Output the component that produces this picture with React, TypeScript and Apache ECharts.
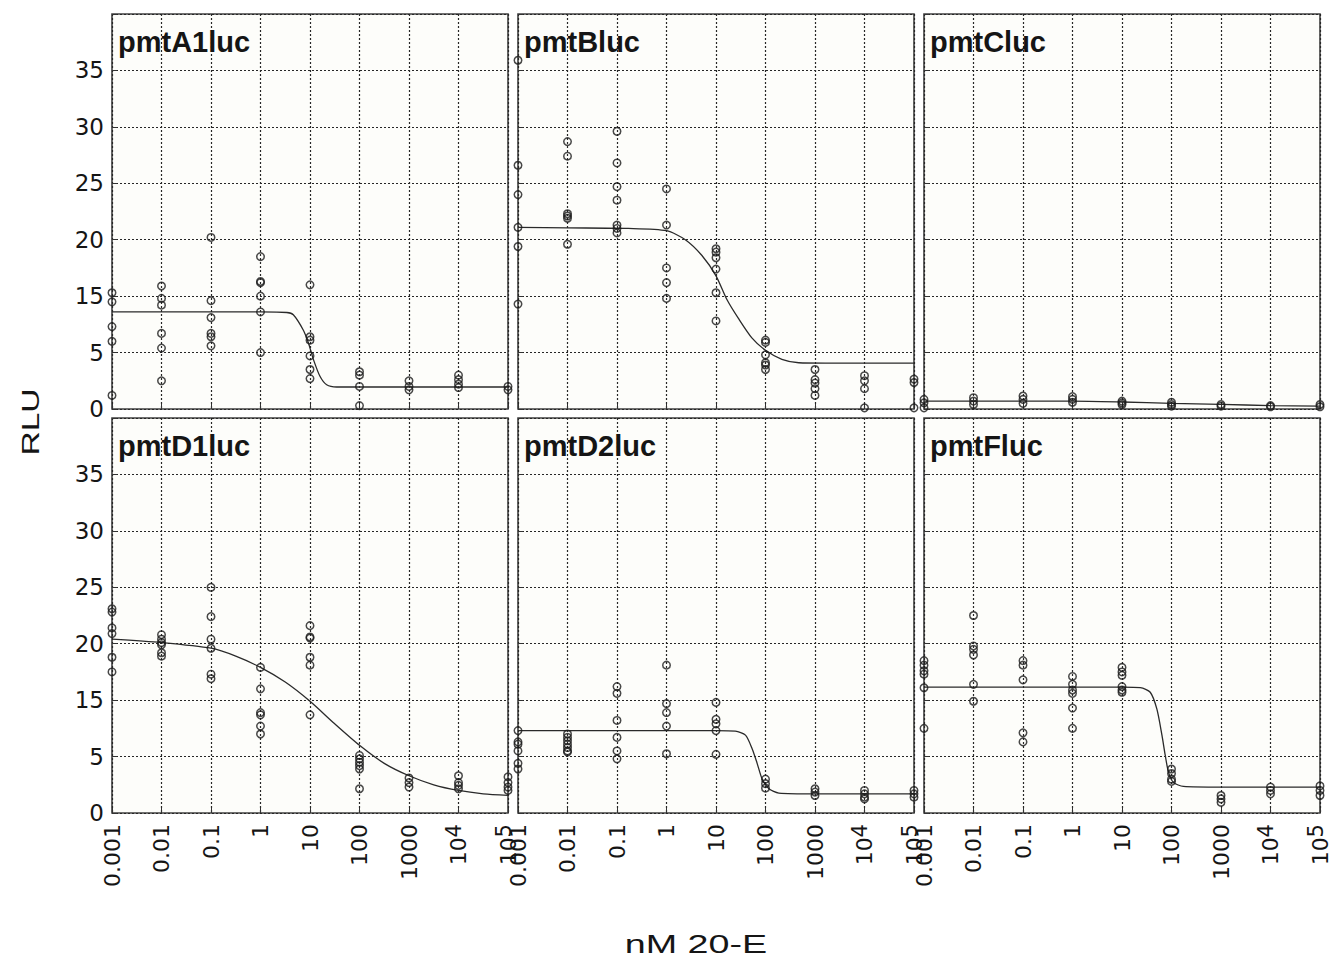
import React, { useEffect, useRef } from 'react';
import * as echarts from 'echarts';

// ---- axis ticks ----
const doses = [0.001, 0.01, 0.1, 1, 10, 100, 1000, 10000, 100000];
const xTickLabels = ['0.001', '0.01', '0.1', '1', '10', '100', '1000', '10^4', '10^5'];
const yTickLabels = ['0', '5', '15', '20', '25', '30', '35'];
const panelNames = ['pmtA1luc', 'pmtBluc', 'pmtCluc', 'pmtD1luc', 'pmtD2luc', 'pmtFluc'];

// ---- replicate readings per dose (plotted axis units) ----
const a1Values = [
  [10.3, 9.5, 7.3, 6.0, 1.2],
  [10.9, 9.8, 9.2, 6.7, 5.4, 2.5],
  [15.2, 9.6, 8.1, 6.7, 6.4, 5.6],
  [13.5, 11.3, 11.2, 10.0, 8.6, 5.0],
  [11.0, 6.4, 6.1, 4.7, 3.5, 2.7],
  [3.3, 3.0, 2.0, 0.3],
  [2.5, 2.0, 1.7],
  [3.0, 2.6, 2.2, 1.9],
  [2.0, 1.7],
];
const bValues = [
  [30.9, 21.6, 19.0, 16.1, 14.4, 9.3],
  [23.7, 22.4, 17.3, 17.1, 16.9, 14.6],
  [24.6, 21.8, 19.7, 18.5, 16.3, 16.0, 15.6],
  [19.5, 16.3, 12.5, 11.2, 9.8],
  [14.2, 13.9, 13.4, 12.4, 10.3, 7.8],
  [6.1, 5.9, 4.8, 4.1, 3.9, 3.5],
  [3.5, 2.6, 2.3, 1.8, 1.2],
  [2.95, 2.5, 1.8, 0.1],
  [2.65, 2.35, 0.1],
];
const cValues = [
  [0.85, 0.55, 0.1],
  [1.0, 0.7, 0.4],
  [1.15, 0.85, 0.5],
  [1.1, 0.85, 0.6],
  [0.7, 0.55, 0.4],
  [0.6, 0.4, 0.25],
  [0.4, 0.25],
  [0.3, 0.2],
  [0.4, 0.2],
];
const d1Values = [
  [18.1, 17.8, 16.4, 15.9, 13.8, 12.5],
  [15.8, 15.4, 15.1, 14.9, 14.2, 13.9],
  [20.0, 17.4, 15.4, 14.6, 12.3, 11.9],
  [12.9, 11.0, 8.9, 8.7, 7.7, 7.0],
  [16.6, 15.6, 15.5, 13.8, 13.1, 8.7],
  [5.1, 4.8, 4.5, 4.2, 3.9, 2.15],
  [3.1, 2.7, 2.3],
  [3.3, 2.7, 2.45, 2.15],
  [3.2, 2.7, 2.3, 2.0],
];
const d2Values = [
  [7.3, 6.3, 6.1, 5.5, 4.4, 3.9],
  [7.0, 6.7, 6.4, 6.1, 5.8, 5.5, 5.4],
  [11.2, 10.6, 8.2, 6.7, 5.5, 4.8],
  [13.1, 9.7, 8.9, 7.7, 5.25],
  [9.8, 8.3, 7.9, 7.3, 5.2],
  [3.0, 2.6, 2.2],
  [2.15, 1.85, 1.55],
  [2.0, 1.7, 1.4, 1.25],
  [2.0, 1.7, 1.4],
];
const fValues = [
  [13.5, 13.1, 12.6, 12.3, 11.1, 7.5],
  [17.5, 14.8, 14.5, 14.0, 11.4, 9.9],
  [13.5, 13.1, 11.8, 7.1, 6.3],
  [12.1, 11.4, 10.9, 10.6, 9.3, 7.5],
  [12.9, 12.5, 12.2, 11.2, 10.9, 10.7],
  [3.9, 3.5, 3.0, 2.8],
  [1.55, 1.25, 0.95],
  [2.3, 2.0, 1.7],
  [2.4, 2.0, 1.55],
];

// ---- fitted curves ----
const a1CurveX = [0.001, 0.01, 0.1, 1, 3.4, 4.6, 7.3, 9.3, 11.7, 15.9, 21.7, 34.7, 100, 1000, 10000, 100000];
const a1CurveY = [8.6, 8.6, 8.6, 8.6, 8.55, 8.35, 7.0, 5.85, 4.4, 2.9, 2.15, 1.95, 1.95, 1.95, 1.95, 1.95];
const bCurveX = [0.001, 0.01, 0.17, 1, 2.4, 5.2, 10, 16.6, 28.6, 53, 100, 214, 470, 1600, 10000, 100000];
const bCurveY = [16.1, 16.05, 16.0, 15.8, 15.0, 13.6, 11.8, 9.7, 8.0, 6.3, 5.2, 4.4, 4.1, 4.07, 4.07, 4.07];
const cCurveX = [0.001, 0.1, 1, 10, 100, 1000, 10000, 100000];
const cCurveY = [0.7, 0.7, 0.7, 0.62, 0.5, 0.41, 0.3, 0.25];
const d1CurveX = [0.001, 0.01, 0.1, 0.316, 1, 3.16, 10, 31.6, 100, 316, 1000, 3160, 10000, 31600, 100000];
const d1CurveY = [15.4, 15.1, 14.6, 13.9, 12.9, 11.6, 9.9, 7.9, 6.0, 4.4, 3.3, 2.5, 2.0, 1.7, 1.56];
const d2CurveX = [0.001, 0.1, 1, 10, 24.5, 39.4, 53.7, 67.8, 85.6, 117, 186, 1000, 100000];
const d2CurveY = [7.3, 7.3, 7.3, 7.3, 7.25, 6.9, 5.7, 4.4, 3.0, 2.15, 1.77, 1.7, 1.7];
const fCurveX = [0.001, 0.1, 1, 10, 23.4, 37.2, 50.7, 64.1, 74.8, 87.1, 110, 174, 1000, 100000];
const fCurveY = [11.15, 11.15, 11.15, 11.15, 11.1, 10.7, 9.2, 6.9, 5.1, 3.6, 2.7, 2.36, 2.3, 2.3];

const panelValues = [a1Values, bValues, cValues, d1Values, d2Values, fValues];
const panelCurvesX = [a1CurveX, bCurveX, cCurveX, d1CurveX, d2CurveX, fCurveX];
const panelCurvesY = [a1CurveY, bCurveY, cCurveY, d1CurveY, d2CurveY, fCurveY];

// ---- layout ----
const gridLefts = [112, 518, 924];
const gridTops = [14, 418];
const gridW = 396;
const gridH = 395;

const INK = '#151515';
const GRIDC = '#262626';

function xLabel(v: number): string {
  const idx = Math.round(Math.log10(v)) + 3;
  const s = xTickLabels[idx];
  if (s === undefined) return '';
  if (s.includes('^')) {
    const [b, e] = s.split('^');
    return `{b|${b}}{s|${e}}`;
  }
  return `{b|${s}}`;
}

function buildOption(): any {
  const grid: any[] = [];
  const xAxis: any[] = [];
  const yAxis: any[] = [];
  const series: any[] = [];
  const title: any[] = [];

  panelNames.forEach((name, i) => {
    const col = i % 3;
    const row = Math.floor(i / 3);
    grid.push({
      left: gridLefts[col],
      top: gridTops[row],
      width: gridW,
      height: gridH,
      show: true,
      borderColor: '#404040',
      borderWidth: 1.6,
      backgroundColor: '#fdfdfa',
    });
    xAxis.push({
      type: 'log',
      logBase: 10,
      gridIndex: i,
      min: doses[0],
      max: doses[doses.length - 1],
      splitNumber: 8,
      axisLine: { show: false },
      axisTick: { show: true, inside: true, length: 5, lineStyle: { color: '#333', width: 1 } },
      splitLine: { show: true, lineStyle: { color: GRIDC, width: 1.2, type: [2, 2] } },
      axisLabel: {
        show: row === 1,
        rotate: 90,
        margin: 11,
        formatter: xLabel,
        color: INK,
        rich: {
          b: { fontFamily: 'DejaVu Sans', fontSize: 22, color: INK, lineHeight: 30 },
          s: { fontFamily: 'DejaVu Sans', fontSize: 21, color: INK, verticalAlign: 'top', lineHeight: 20 },
        },
      },
    });
    yAxis.push({
      type: 'value',
      gridIndex: i,
      min: 0,
      max: 35,
      interval: 5,
      axisLine: { show: false },
      axisTick: { show: true, inside: true, length: 5, lineStyle: { color: '#333', width: 1 } },
      splitLine: { show: true, lineStyle: { color: GRIDC, width: 1.2, type: [2, 2] } },
      axisLabel: {
        show: col === 0,
        margin: 8,
        fontFamily: 'DejaVu Sans',
        fontSize: 23,
        color: INK,
        formatter: (v: number) => yTickLabels[Math.round(v / 5)] ?? '',
      },
    });
    const pts: number[][] = [];
    panelValues[i].forEach((vals, k) => vals.forEach((v) => pts.push([doses[k], v])));
    series.push({
      type: 'line',
      xAxisIndex: i,
      yAxisIndex: i,
      data: panelCurvesX[i].map((x, k) => [x, panelCurvesY[i][k]]),
      showSymbol: false,
      symbol: 'none',
      smooth: 0.25,
      clip: true,
      lineStyle: { color: '#2a2a2a', width: 1.3 },
      silent: true,
      z: 2,
    });
    series.push({
      type: 'scatter',
      xAxisIndex: i,
      yAxisIndex: i,
      data: pts,
      symbol: 'circle',
      symbolSize: 7.5,
      clip: false,
      itemStyle: { color: 'rgba(255,255,255,0)', borderColor: '#1a1a1a', borderWidth: 1.5 },
      silent: true,
      z: 3,
    });
    title.push({
      text: name,
      left: gridLefts[col] + 6,
      top: gridTops[row] + 13,
      padding: 0,
      textStyle: {
        fontFamily: '"Liberation Sans", Arial, sans-serif',
        fontWeight: 'bold',
        fontSize: 29,
        color: INK,
      },
    });
  });

  return {
    animation: false,
    backgroundColor: '#ffffff',
    title,
    grid,
    xAxis,
    yAxis,
    series,
    graphic: [
      {
        type: 'text',
        x: 31,
        y: 422,
        rotation: Math.PI / 2,
        scaleX: 1.4,
        style: {
          text: 'RLU',
          fontFamily: '"Liberation Sans", Arial, sans-serif',
          fontSize: 24,
          fill: INK,
          align: 'center',
          verticalAlign: 'middle',
        },
      },
      {
        type: 'text',
        x: 696,
        y: 944,
        scaleX: 1.45,
        style: {
          text: 'nM 20-E',
          fontFamily: '"Liberation Sans", Arial, sans-serif',
          fontSize: 26,
          fill: INK,
          align: 'center',
          verticalAlign: 'middle',
        },
      },
    ],
  };
}

export default function App() {
  const ref = useRef<HTMLDivElement>(null);
  useEffect(() => {
    document.documentElement.style.margin = '0';
    document.documentElement.style.overflow = 'hidden';
    document.body.style.margin = '0';
    document.body.style.overflow = 'hidden';
    const chart = echarts.init(ref.current!, null, { renderer: 'svg' });
    chart.setOption(buildOption());
    return () => chart.dispose();
  }, []);
  return (
    <div
      ref={ref}
      style={{ position: 'fixed', left: 0, top: 0, width: 1335, height: 970, overflow: 'hidden' }}
    />
  );
}
